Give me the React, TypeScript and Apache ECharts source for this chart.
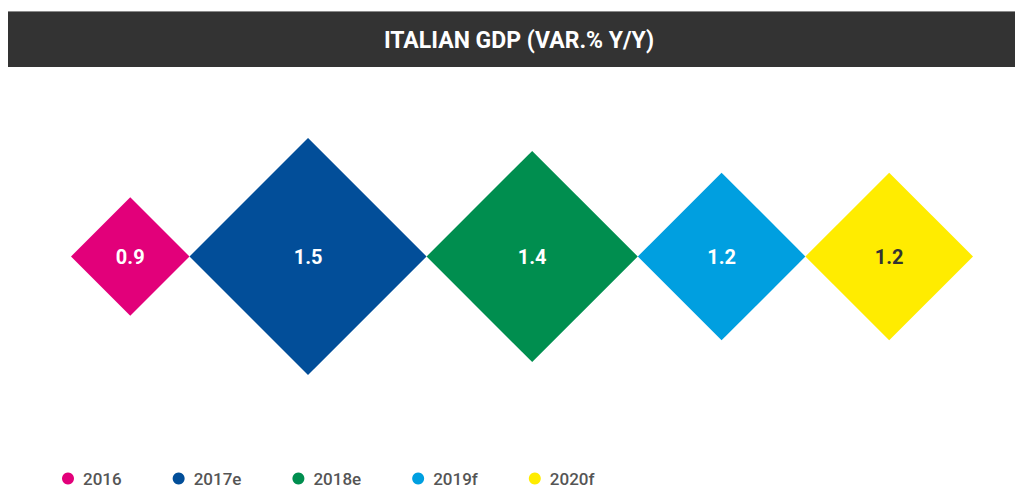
import React, { useEffect, useRef } from "react";
import * as echarts from "echarts";

const categories = ["2016", "2017e", "2018e", "2019f", "2020f"];
const gdpGrowth = [0.9, 1.5, 1.4, 1.2, 1.2];
const colors = ["#E2007A", "#024E99", "#008E4F", "#009FE0", "#FFEC00"];
const labelColors = ["#FFFFFF", "#FFFFFF", "#FFFFFF", "#FFFFFF", "#333333"];
const titleText = "ITALIAN GDP (VAR.% Y/Y)";

// diamond width (axis units) grows with the value
const widthOf = (v: number) => 118.2 * Math.exp(1.156 * (v - 0.9));

export default function App() {
  const ref = useRef<HTMLDivElement>(null);
  useEffect(() => {
    if (!ref.current) return;
    const chart = echarts.init(ref.current, undefined, { renderer: "svg" });
    const widths = gdpGrowth.map(widthOf);
    const centers: number[] = [];
    let acc = 0;
    widths.forEach((w) => {
      centers.push(acc + w / 2);
      acc += w;
    });
    const total = acc;

    const series = categories.map((name, i) => ({
      type: "custom",
      name,
      itemStyle: { color: colors[i] },
      data: [[centers[i], widths[i], gdpGrowth[i]]],
      renderItem: (params: any, api: any) => {
        const c = api.coord([api.value(0), 0]);
        const w = api.size([api.value(1), 0])[0];
        const h = w / 2;
        return {
          type: "group",
          children: [
            {
              type: "polygon",
              shape: {
                points: [
                  [c[0] - h, c[1]],
                  [c[0], c[1] - h],
                  [c[0] + h, c[1]],
                  [c[0], c[1] + h],
                ],
              },
              style: { fill: colors[i] },
            },
            {
              type: "text",
              x: c[0],
              y: c[1],
              style: {
                text: Number(api.value(2)).toFixed(1),
                fill: labelColors[i],
                fontSize: 20,
                fontWeight: "bold",
                fontFamily: "Roboto",
                align: "center",
                verticalAlign: "middle",
              },
            },
          ],
        };
      },
    }));

    chart.setOption({
      animation: false,
      grid: { left: 71, width: 902, top: 150, bottom: 125 },
      xAxis: { type: "value", min: 0, max: total, show: false },
      yAxis: { type: "value", min: -1, max: 1, show: false },
      legend: {
        left: 62,
        top: 470,
        icon: "circle",
        itemWidth: 20,
        itemHeight: 12,
        itemGap: 51,
        padding: 0,
        textStyle: { fontSize: 17, color: "#555555", fontFamily: "Roboto", fontWeight: 500 },
        data: categories,
      },
      graphic: [
        {
          type: "rect",
          shape: { x: 8, y: 11, width: 1010, height: 56 },
          style: { fill: "#333333" },
          z: 0,
        },
        {
          type: "line",
          shape: { x1: 8, y1: 11.5, x2: 1015, y2: 11.5 },
          style: { stroke: "#8a8a8a", lineWidth: 1 },
          z: 1,
        },
        {
          type: "text",
          x: 519,
          y: 40,
          style: {
            text: titleText,
            fill: "#FFFFFF",
            fontSize: 23,
            fontWeight: "bold",
            fontFamily: "Roboto",
            align: "center",
            verticalAlign: "middle",
          },
          z: 2,
        },
      ],
      series,
    });
    return () => chart.dispose();
  }, []);
  return (
    <div
      ref={ref}
      style={{ position: "fixed", left: 0, top: 0, width: 1015, height: 488, background: "#fff" }}
    />
  );
}
